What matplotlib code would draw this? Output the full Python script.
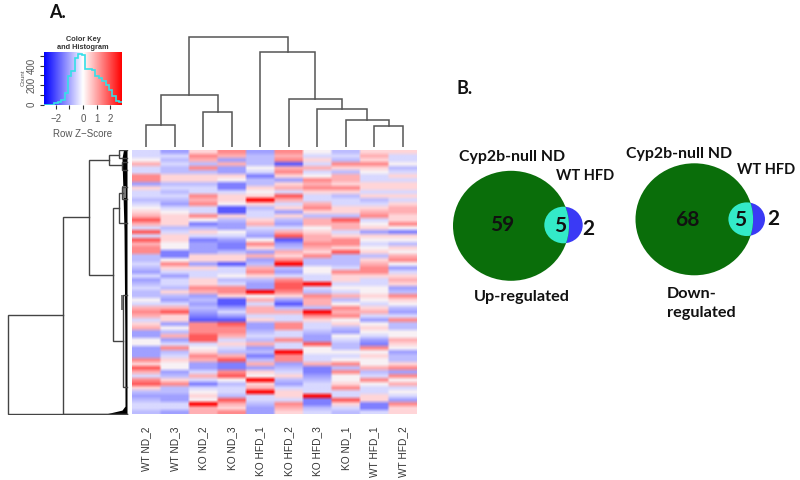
import numpy as np
import matplotlib
matplotlib.use("Agg")
import matplotlib.pyplot as plt
from matplotlib.colors import LinearSegmentedColormap, Normalize
from matplotlib.patches import Ellipse

W, H = 800, 480
FONT = ["Lato", "DejaVu Sans"]
KEYFONT = ["Liberation Sans", "DejaVu Sans"]
plt.rcParams["font.family"] = FONT

samples = ["WT ND_2", "WT ND_3", "KO ND_2", "KO ND_3", "KO HFD_1",
           "KO HFD_2", "KO HFD_3", "KO ND_1", "WT HFD_1", "WT HFD_2"]

wt_nd_2 = [-1,-1,0,2,-1,-1,3,3,-3,1,-1,-1,-2,-1,0,1,2,
           4,2,-1,4,-1,4,2,3,3,-2,-2,-1,-2,-3,-1,-3,-2,
           -1,-2,-2,0,-1,2,3,2,-1,1,2,-3,-3,0,0,-3,-3,
           -3,3,1,4,2,-1,3,4,1,-2,-3,-2,-1,-1,-2]
wt_nd_3 = [-3,-1,-2,-1,-2,-2,1,1,-2,-1,-2,-1,-2,-3,-1,0,1,
           1,1,-2,-1,1,1,0,0,-4,-4,0,3,1,-1,-3,-1,-1,
           -2,1,-2,-3,-1,2,4,1,1,-3,0,-2,2,-3,-1,3,-2,
           -1,1,0,0,-3,-2,1,3,-2,-2,-3,-3,-1,-1,-3]
ko_nd_2 = [1,3,2,-2,3,-2,1,1,-2,-1,-1,3,2,3,-1,-1,3,
           0,-4,-2,1,-1,-4,-3,-3,-3,1,1,-3,1,-1,-1,1,1,
           3,2,-3,-2,-3,-2,-3,-4,-5,3,3,3,4,4,-1,0,1,
           3,2,-3,-3,-1,2,-1,-4,-1,0,1,0,5,2,2]
ko_nd_3 = [3,2,-3,2,-3,-3,1,0,-4,-4,-1,1,1,0,-5,-5,1,
           -2,-3,-3,0,-1,-3,-4,-4,-2,1,1,-5,-1,-1,0,-2,-1,
           3,3,1,-5,-5,-3,-1,-3,-5,4,3,3,2,-1,1,-1,-2,
           2,4,-4,-4,3,4,0,-2,-1,-1,-2,4,2,1,3]
ko_hfd_1 = [-3,-2,-2,-2,0,-1,-4,-2,-2,1,0,1,5,1,-2,-1,-1,
            1,2,-1,-2,-3,0,3,1,-3,2,-3,-2,2,3,1,-2,-3,
            -3,5,0,2,-1,2,2,-1,1,-3,-3,-2,-1,-2,2,-3,-2,
            -4,-2,2,-3,1,0,5,1,2,5,-1,-1,-2,-3,-3]
ko_hfd_2 = [3,2,3,-5,2,3,1,-3,1,2,-1,4,2,-1,1,-3,1,
            -2,-3,-1,2,4,-5,-3,-2,2,1,3,5,-2,-3,-1,3,4,
            4,3,1,-3,-5,-2,2,-1,-1,3,3,-1,-1,3,-1,-1,5,
            3,3,-3,-2,-1,1,-2,-3,-1,1,1,-1,3,2,1]
ko_hfd_3 = [0,-1,1,-1,2,-1,0,3,2,3,1,-1,-1,2,3,1,-2,
            2,2,0,1,2,2,3,2,1,3,-2,-2,0,0,-1,-1,5,
            -1,-2,3,2,2,-2,5,3,1,-1,-1,-2,-3,-3,4,0,0,
            -1,-1,2,-4,-4,-3,-2,-1,-1,-1,5,-4,-4,-2,-1]
ko_nd_1 = [-2,-1,-2,3,1,-2,2,2,1,3,1,-2,-1,-1,1,1,-2,
           4,2,2,-1,1,3,3,1,4,-2,-2,-2,-1,3,1,1,-1,
           0,-1,2,-2,0,3,2,3,0,1,-2,-3,0,-1,-2,-2,0,
           -1,0,3,-2,3,0,0,1,3,-1,-1,4,1,-1,-2]
wt_hfd_1 = [1,2,1,3,1,0,-1,-1,1,1,-1,1,-2,-1,1,2,3,
            -1,0,1,-3,1,0,-1,0,1,-2,1,2,3,3,1,-1,-1,
            0,0,1,0,-1,1,2,-1,-3,0,1,0,-1,-3,-4,3,0,
            1,0,0,2,-2,-1,3,0,-1,-1,1,1,-4,-4,-1]
wt_hfd_2 = [1,-1,-1,0,-2,-1,1,-1,1,1,-1,1,-1,1,2,2,1,
            1,3,0,-4,1,0,-2,1,0,2,3,0,-3,-1,1,2,1,
            -3,-2,3,1,0,-2,-3,-1,3,-2,-2,0,0,2,1,0,-3,
            -2,-2,1,3,-3,3,0,2,-1,0,-1,-3,3,1,1]
columns = [wt_nd_2, wt_nd_3, ko_nd_2, ko_nd_3, ko_hfd_1,
           ko_hfd_2, ko_hfd_3, ko_nd_1, wt_hfd_1, wt_hfd_2]

# column dendrogram: (left node, right node, height); leaves are 0-9, new nodes from 10
col_merges = [(0, 1, 22.3), (2, 3, 35), (10, 11, 52.3), (8, 9, 21.3), (7, 13, 27),
              (6, 14, 38.3), (5, 15, 48.3), (4, 16, 95), (12, 17, 109.7)]

# row dendrogram brackets
row_height = [118.7, 64, 38.3, 18, 14, 8, 5.3, 4.5, 8, 5]
row_top = [41.2, 16.7, 2.5, 1.2, 14.5, 10.7, 9.2, 36.2, 0, 3]
row_bot = [66, 65.9, 31.2, 3.7, 47.7, 18.2, 12.2, 59.2, 2, 5]
row_child_top = [64, 38.3, 18, 8, 8, 4.5, 0, 0, 0, 0]
row_child_bot = [0, 0, 14, 5, 4.5, 0, 0, 0, 0, 0]

# colour key histogram
hist_counts = [0, 0, 0, 20, 25, 45, 120, 290, 340, 480, 520, 510, 370, 370, 350,
               290, 270, 240, 200, 150, 90, 40, 30]
key_ticks = [-2, -1, 0, 1, 2]
key_tick_labels = ["\u22122", "", "0", "1", "2"]
count_ticks = [0, 100, 200, 300, 400, 500]
count_tick_labels = ["0", "", "200", "", "400", ""]

key_cmap = LinearSegmentedColormap.from_list("bwr2", ["#0000ff", "#ffffff", "#ff0000"])
heat_cmap = LinearSegmentedColormap.from_list(
    "heat", ["#5a5aff", "#8080ff", "#a0a0ff", "#bdbdff", "#d8d8ff", "#f8f2f6",
             "#ffd5d8", "#ffb0b4", "#ff8a8c", "#ff5c5c", "#ff0000"])


def px_axes(x0, y0, x1, y1, **kw):
    return fig.add_axes([x0 / W, 1 - y1 / H, (x1 - x0) / W, (y1 - y0) / H], **kw)


fig = plt.figure(figsize=(W / 100, H / 100), dpi=100, facecolor="white")

# heatmap
matrix = np.array(columns, dtype=float).T
ax = px_axes(132, 150, 417, 414)
ax.imshow(np.repeat(matrix, 10, axis=1), cmap=heat_cmap, norm=Normalize(-5, 5), aspect="auto",
          interpolation="bilinear", extent=[-0.5, 9.5, matrix.shape[0], 0])
ax.set_yticks([])
ax.set_xticks(range(10))
ax.set_xticklabels(samples, rotation=90, fontsize=7.3, color="#333333", va="top", family=KEYFONT)
ax.tick_params(axis="x", length=0, pad=9)
for s in ax.spines.values():
    s.set_visible(False)

# column dendrogram
axc = px_axes(132, 30, 417, 147)
axc.set_xlim(-0.5, 9.5)
axc.set_ylim(0, 117)
axc.axis("off")
node_x = {i: float(i) for i in range(10)}
node_h = {i: 0.0 for i in range(10)}
for k, (a, b, h) in enumerate(col_merges):
    axc.plot([node_x[a], node_x[a], node_x[b], node_x[b]],
             [node_h[a], h, h, node_h[b]], color="#555555", lw=1.1, solid_joinstyle="miter")
    node_x[10 + k] = (node_x[a] + node_x[b]) / 2
    node_h[10 + k] = h

# row dendrogram
axr = px_axes(0, 150, 132, 414.5)
axr.set_xlim(127, -5)
axr.set_ylim(66.1, 0)
axr.axis("off")
for d, t, b, ct, cb in zip(row_height, row_top, row_bot, row_child_top, row_child_bot):
    axr.plot([ct, d, d, cb], [t, t, b, b], color="#444444", lw=1.0, solid_joinstyle="miter")
axr.fill_betweenx([0, 2, 20, 45, 64, 65, 66], [3.5, 5, 3, 2.2, 2, 5, 22], 0, color="black", lw=0)
axr.fill_betweenx([36.2, 40], 3.5, 6, color="#777777", lw=0)
axr.fill_betweenx([9, 12], 1, 5, color="#777777", lw=0)

# colour key
axk = px_axes(44, 51.7, 122, 104.7)
axk.imshow(np.linspace(-2.85, 2.85, 256)[None, :], cmap=key_cmap, norm=Normalize(-2.85, 2.85),
           aspect="auto", interpolation="bilinear", extent=[-2.85, 2.85, 0, 542])
edges = -2.85 + 0.25 * np.arange(len(hist_counts) + 1)
axk.stairs(hist_counts, edges, color="#35dfe8", lw=1.2)
axk.set_xlim(-2.85, 2.85)
axk.set_ylim(0, 542)
axk.set_xticks(key_ticks)
axk.set_xticklabels(key_tick_labels, fontsize=7, color="#555555", family=KEYFONT)
axk.set_yticks(count_ticks)
axk.set_yticklabels(count_tick_labels, fontsize=7, color="#555555", rotation=90, va="center",
                    family=KEYFONT)
axk.tick_params(length=3, width=0.8, color="#333333")
axk.tick_params(axis="x", pad=4)
axk.tick_params(axis="y", pad=2)
axk.set_xlabel("Row Z\u2212Score", fontsize=7, color="#555555", labelpad=3.5, family=KEYFONT)
axk.set_ylabel("Count", fontsize=4.5, color="#555555", labelpad=1, family=KEYFONT)
axk.set_title("Color Key\nand Histogram", fontsize=5.3, fontweight="bold", color="#333333",
              pad=2, linespacing=1.15, family=KEYFONT)
for s in axk.spines.values():
    s.set_visible(False)

# Venn diagrams and panel letters on a pixel overlay
ov = px_axes(0, 0, W, H)
ov.set_xlim(0, W)
ov.set_ylim(H, 0)
ov.axis("off")
ov.patch.set_alpha(0)

GREEN, BLUE, TEAL = "#0a6e0a", "#3a3af5", "#33eac8"


def venn(big, small):
    ov.add_patch(Ellipse(small[:2], small[2], small[3], color=BLUE, lw=0))
    big_patch = Ellipse(big[:2], big[2], big[3], color=GREEN, lw=0)
    ov.add_patch(big_patch)
    overlap = Ellipse(small[:2], small[2], small[3], color=TEAL, lw=0)
    ov.add_patch(overlap)
    overlap.set_clip_path(big_patch)


venn((511, 225.8, 116, 110), (563.5, 225, 38.4, 36.6))
venn((694.3, 219.3, 117.6, 112), (746.7, 219.2, 36.6, 33.6))


def label(x, y, s, size=11.4, ha="left", color="#111111"):
    ov.text(x, y, s, fontsize=size, fontweight="bold", ha=ha, va="center", color=color)


label(49, 12, "A.", 13)
label(456, 88, "B.", 13)
label(459, 157.3, "Cyp2b-null ND")
label(555.7, 176, "WT HFD", 10.5)
label(625.7, 153.7, "Cyp2b-null ND")
label(737, 169.7, "WT HFD", 10.5)
label(474, 297, "Up-regulated", 11.7)
label(667, 294, "Down-", 11.7)
label(667, 313, "regulated", 11.7)
label(502, 225, "59", 15, "center")
label(560, 226, "5", 15, "center")
label(588.7, 228.7, "2", 15, "center")
label(687, 220, "68", 15, "center")
label(740, 220, "5", 15, "center")
label(773.7, 219, "2", 15, "center")

fig.savefig("out.png", dpi=100)
